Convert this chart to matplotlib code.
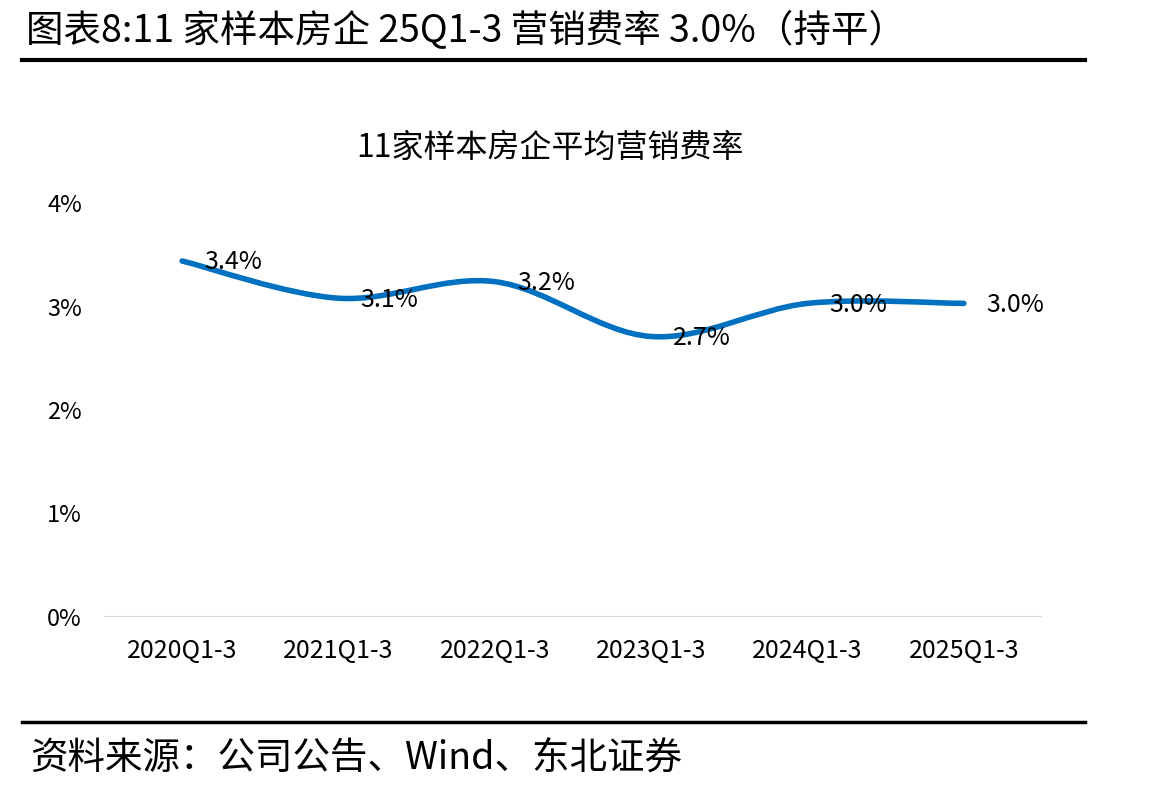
import numpy as np
import matplotlib
matplotlib.use("Agg")
import matplotlib.pyplot as plt
from matplotlib.path import Path
from matplotlib.patches import PathPatch
from matplotlib.lines import Line2D

plt.rcParams['font.family'] = ['Noto Sans CJK SC', 'DejaVu Sans']

categories = ['2020Q1-3', '2021Q1-3', '2022Q1-3', '2023Q1-3', '2024Q1-3', '2025Q1-3']
rates = [3.44, 3.08, 3.24, 2.71, 3.03, 3.03]
yticks = [0, 1, 2, 3, 4]

main_title = '图表8:11 家样本房企 25Q1-3 营销费率 3.0%（持平）'
chart_title = '11家样本房企平均营销费率'
source = '资料来源：公司公告、Wind、东北证券'

blue = '#0070C0'


def smooth_path(xs, ys):
    # excel-style smoothed line: catmull-rom as cubic bezier
    pts = np.column_stack([xs, ys]).astype(float)
    ext = np.vstack([pts[0], pts, pts[-1]])
    verts = [pts[0]]
    codes = [Path.MOVETO]
    for i in range(len(pts) - 1):
        p0, p1, p2, p3 = ext[i], ext[i + 1], ext[i + 2], ext[i + 3]
        verts += [p1 + (p2 - p0) / 6, p2 - (p3 - p1) / 6, p2]
        codes += [Path.CURVE4] * 3
    return Path(verts, codes)


fig = plt.figure(figsize=(11.58, 7.94), dpi=100)
ax = fig.add_axes([104 / 1158, 1 - 617 / 794, 938 / 1158, 414 / 794])

x = np.arange(len(categories))
ax.add_patch(PathPatch(smooth_path(x, rates), facecolor='none', edgecolor=blue,
                       lw=4, capstyle='round', zorder=3))
ax.axhline(0, color='#D9D9D9', lw=1.5, zorder=1)

for xi, v in zip(x, rates):
    ax.annotate(f'{v:.1f}%', (xi, v), xytext=(16, -1), textcoords='offset points',
                ha='left', va='center', fontsize=18, color='black', zorder=4)

ax.set_xlim(-0.5, len(categories) - 0.5)
ax.set_ylim(0, 4)
ax.set_xticks(x)
ax.set_xticklabels(categories, fontsize=18)
ax.set_yticks(yticks)
ax.set_yticklabels([f'{t}%' for t in yticks], fontsize=17)
ax.tick_params(length=0)
ax.tick_params(axis='y', pad=16)
ax.tick_params(axis='x', pad=15)
for s in ax.spines.values():
    s.set_visible(False)

fig.text(26 / 1158, 1 - 32 / 794, main_title, fontsize=27,
         ha='left', va='center', weight='medium')
fig.add_artist(Line2D([22 / 1158, 1085 / 1158], [1 - 60 / 794] * 2, color='black', lw=3))
fig.text(550 / 1158, 1 - 148 / 794, chart_title, fontsize=23,
         ha='center', va='center')
fig.add_artist(Line2D([22 / 1158, 1085 / 1158], [1 - 722 / 794] * 2, color='black', lw=2.5))
fig.text(30 / 1158, 1 - 758 / 794, source, fontsize=27,
         ha='left', va='center', style='italic')

fig.savefig('out.png', dpi=100)
